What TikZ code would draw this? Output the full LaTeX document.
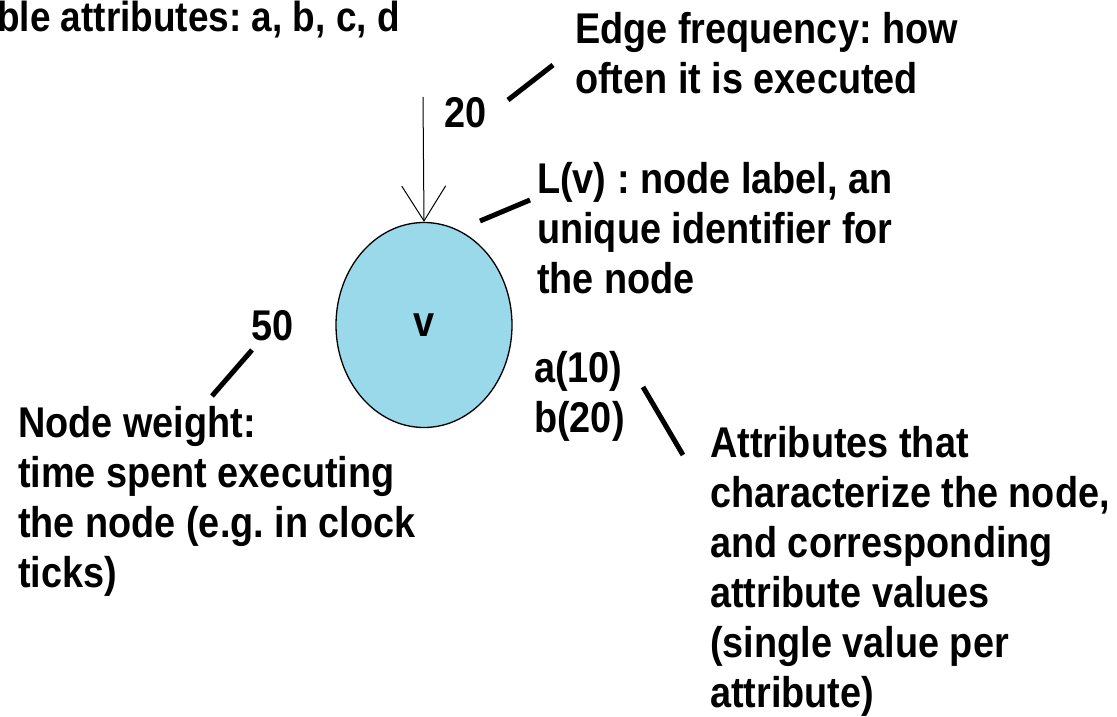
\documentclass[tikz,border=0pt]{standalone}
\usepackage{fontspec}
\newfontfamily\lab[FakeStretch=0.88]{Liberation Sans}
\usetikzlibrary{arrows.meta,shapes.geometric}
\definecolor{vfill}{RGB}{153,217,234}
\frenchspacing
\begin{document}
\begin{tikzpicture}[x=1pt,y=-1pt,
  txt/.style={font=\lab\bfseries\fontsize{43}{50}\selectfont, inner sep=0pt, align=left, text=black},
  pointer/.style={line width=5pt, black},
  vnode/.style={ellipse, draw=black, line width=1.3pt, fill=vfill, minimum width=176pt, minimum height=205pt, inner sep=0pt}]
\useasboundingbox (0,0) rectangle (1117,717);
% node
\node[vnode, font=\lab\bfseries\fontsize{43}{50}\selectfont] (v) at (424,325) {v};
% incoming edge
\coordinate (src) at (423,97);
\draw[line width=1pt, -{Straight Barb[length=35pt,width=44pt,line width=1pt]}] (src) -- (v.north);
% texts (base anchor = baseline of the last line)
\node[txt, anchor=base west, font=\lab\bfseries\fontsize{42}{50}\selectfont] (top) at (-3,32) {ble attributes: a, b, c, d};
\node[txt, anchor=base west] (ef) at (575,93) {Edge frequency: how\\often it is executed};
\node[txt, anchor=base west] (w20) at (444,127) {20};
\node[txt, anchor=base west] (lab) at (537,293) {L(v) : node label, an\\unique identifier for\\the node};
\node[txt, anchor=base west] (w50) at (251,340) {50};
\node[txt, anchor=base west] (nw) at (18,587) {Node weight:\\time spent executing\\the node (e.g. in clock\\ticks)};
\node[txt, anchor=base west] (av) at (534,432) {a(10)\\b(20)};
\node[txt, anchor=base west] (attr) at (710,707) {Attributes that\\characterize the node,\\and corresponding\\attribute values\\(single value per\\attribute)};
% pointer lines
\coordinate (e1) at (508,100); \coordinate (e2) at (553,65);
\coordinate (l1) at (480,221); \coordinate (l2) at (530,200);
\coordinate (n1) at (212,396); \coordinate (n2) at (252,350);
\coordinate (a1) at (643,387); \coordinate (a2) at (683,455);
\draw[pointer] (e1) -- (e2);
\draw[pointer] (l1) -- (l2);
\draw[pointer] (n1) -- (n2);
\draw[pointer] (a1) -- (a2);
\end{tikzpicture}
\end{document}
